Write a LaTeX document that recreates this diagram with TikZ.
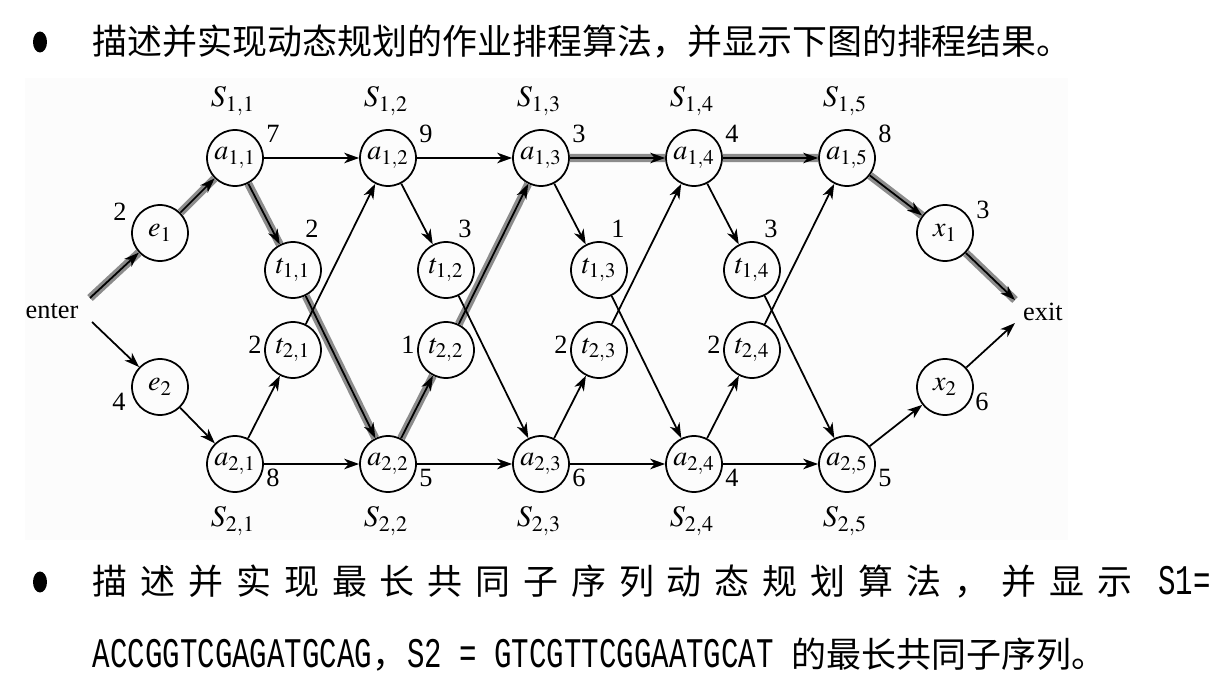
\documentclass[tikz,border=0pt]{standalone}
\usepackage{mathptmx}
\usepackage{fontspec}
\setmainfont{Liberation Serif}
\newfontfamily\cjk{Noto Sans CJK SC}
\newfontfamily\asciifont[FakeStretch=0.69]{Liberation Mono}
\usetikzlibrary{shapes.geometric}
\usetikzlibrary{arrows.meta}
\tikzset{
	stnode/.style = {circle, draw=black, line width=1pt, minimum size=1.12cm,
		inner sep=0pt, font=\fontsize{16}{18}\selectfont},% station
	wlabel/.style = {inner sep=0pt, font=\fontsize{15}{18}\selectfont},% poids
	slabel/.style = {inner sep=0pt, font=\fontsize{17}{20}\selectfont},% ligne
	hl/.style = {-, line width=4.6pt, black!45},% chemin le plus court
	bul/.style = {ellipse, fill=black, minimum width=0.28cm,
		minimum height=0.42cm, inner sep=0pt},
	cjktext/.style = {anchor=west, inner sep=0pt,
		font=\cjk\fontsize{19.9}{24}\selectfont}
}

\begin{document}
\begin{tikzpicture}[x=0.02cm, y=-0.02cm, ->,
		>={Stealth[length=8.5pt,width=6pt,inset=2.5pt]}, line width=1pt]
	\useasboundingbox (0,0) rectangle (1232,696);
	\fill[black!1] (25,78) rectangle (1068,540);
	% texte
	\node[bul] (b1) at (40,42) {};
	\node[cjktext] (q1) at (92,42) {描述并实现动态规划的作业排程算法，并显示下图的排程结果。};
	\node[bul] (b2) at (40,582) {};
	\node[cjktext] (q2) at (92,582) {\makebox[22.36cm][l]{描\hfill 述\hfill 并\hfill 实\hfill 现\hfill 最\hfill 长\hfill 共\hfill 同\hfill 子\hfill 序\hfill 列\hfill 动\hfill 态\hfill 规\hfill 划\hfill 算\hfill 法\hfill ，\hfill 并\hfill 显\hfill 示\hfill\hfill {\asciifont\fontsize{24}{24}\selectfont S1=}}};
	\node[cjktext] (q3) at (92,655) {{\asciifont\fontsize{24}{24}\selectfont ACCGGTCGAGATGCAG}，{\asciifont\fontsize{24}{24}\selectfont S2 = GTCGTTCGGAATGCAT }的最长共同子序列。};
	% stations
	\foreach \j/\wa/\wb in {1/7/8, 2/9/5, 3/3/6, 4/4/4, 5/8/5}{
		\pgfmathsetmacro\x{235+153*(\j-1)}
		\node[stnode] (a1\j) at (\x,158) {$a_{1,\j}$};
		\node[stnode] (a2\j) at (\x,464) {$a_{2,\j}$};
		\node[wlabel] (w1\j) at (\x+38,134) {\wa};
		\node[wlabel] (w2\j) at (\x+38,478) {\wb};
		\node[slabel] (s1\j) at (\x-2,101) {$S_{1,\j}$};
		\node[slabel] (s2\j) at (\x-2,521) {$S_{2,\j}$};
	}
	\foreach \j/\wt/\wu in {1/2/2, 2/3/1, 3/1/2, 4/3/2}{
		\pgfmathsetmacro\x{293+153*(\j-1)}
		\node[stnode] (t1\j) at (\x,270) {$t_{1,\j}$};
		\node[stnode] (t2\j) at (\x,350) {$t_{2,\j}$};
		\node[wlabel] (v1\j) at (\x+19,229) {\wt};
		\node[wlabel] (v2\j) at (\x-38,345) {\wu};
	}
	\node[stnode] (e1) at (160,233) {$e_1$};
	\node[stnode] (e2) at (160,387) {$e_2$};
	\node[stnode] (x1) at (945,233) {$x_1$};
	\node[stnode] (x2) at (945,387) {$x_2$};
	\node[wlabel] (we1) at (120,212) {2};
	\node[wlabel] (we2) at (119,402) {4};
	\node[wlabel] (wx1) at (983,210) {3};
	\node[wlabel] (wx2) at (982,402) {6};
	\node[wlabel] (enter) at (52,311) {enter};
	\node[wlabel] (exit) at (1043,312) {exit};
	\coordinate (en1) at (90,298);
	\coordinate (en2) at (92,322);
	\coordinate (ex1) at (1015,300);
	\coordinate (ex2) at (1015,323);
	% chemin
	\draw[hl] (en1) -- (e1) -- (a11) -- (t11) -- (a22) -- (t22) -- (a13)
		-- (a14) -- (a15) -- (x1) -- (ex1);
	% aretes
	\draw (en1) -- (e1);
	\draw (en2) -- (e2);
	\draw (e1) -- (a11);
	\draw (e2) -- (a21);
	\foreach \j in {1,...,4}{
		\pgfmathtruncatemacro\k{\j+1}
		\draw (a1\j) -- (a1\k);
		\draw (a2\j) -- (a2\k);
		\draw (a1\j) -- (t1\j);
		\draw (t1\j) -- (a2\k);
		\draw (a2\j) -- (t2\j);
		\draw (t2\j) -- (a1\k);
	}
	\draw (a15) -- (x1);
	\draw (a25) -- (x2);
	\draw (x1) -- (ex1);
	\draw (x2) -- (ex2);
\end{tikzpicture}
\end{document}
